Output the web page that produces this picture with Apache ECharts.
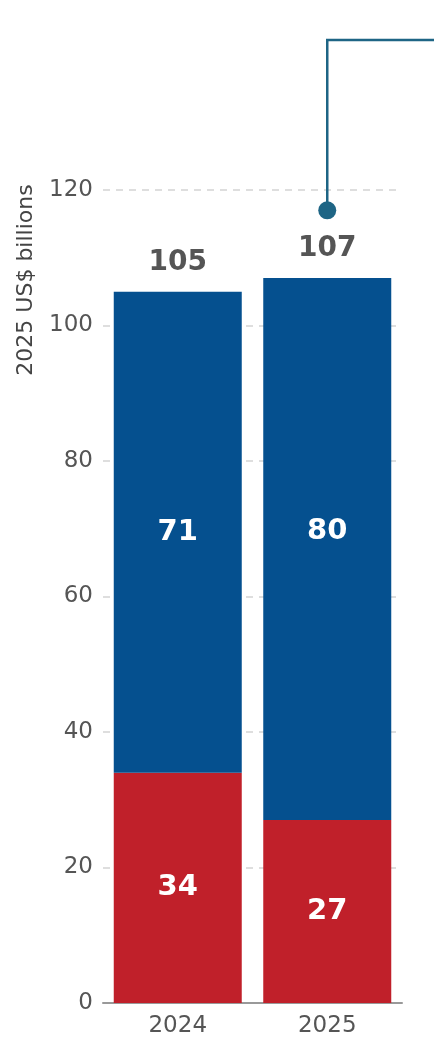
<!DOCTYPE html>
<html><head><meta charset="utf-8">
<script src="https://cdn.jsdelivr.net/npm/echarts@6/dist/echarts.min.js"></script>
<style>html,body{margin:0;padding:0;background:#fff}#c{width:434px;height:1038px}</style>
</head><body><div id="c"></div>
<script>
const categories = ['2024', '2025'];
const redValues = [34, 27];
const blueValues = [71, 80];
const totals = [105, 107];
const markerValue = 117;
const markerCategory = '2025';
const yTicks = [0, 20, 40, 60, 80, 100, 120];
const yAxisTitle = '2025 US$ billions';

const FONT = 'DejaVu Sans';
const chart = echarts.init(document.getElementById('c'), null, {renderer: 'canvas'});
const blueData = blueValues.map((v, i) => i === 1 ? {value: v, label: {offset: [0, -18]}} : v);
const option = {
  animation: false,
  grid: {left: 103, right: 32, top: 190, bottom: 32, containLabel: false},
  xAxis: {
    type: 'category', data: categories,
    axisLine: {lineStyle: {color: '#999', width: 2}},
    axisTick: {show: false},
    axisLabel: {color: '#555', fontSize: 23, fontFamily: FONT, margin: 12}
  },
  yAxis: {
    type: 'value', min: yTicks[0], max: yTicks[yTicks.length - 1], interval: 20,
    axisLine: {show: false}, axisTick: {show: false},
    axisLabel: {color: '#555', fontSize: 23, fontFamily: FONT, margin: 10},
    splitLine: {lineStyle: {color: '#d4d4d4', type: [7, 6], width: 1.5}}
  },
  series: [
    {type: 'bar', stack: 't', data: redValues, barWidth: 128,
     itemStyle: {color: '#C0202A'},
     label: {show: true, position: 'inside', color: '#fff', fontSize: 29, fontWeight: 'bold', fontFamily: FONT}},
    {type: 'bar', stack: 't', data: blueData, barWidth: 128,
     itemStyle: {color: '#05508F'},
     label: {show: true, position: 'inside', color: '#fff', fontSize: 29, fontWeight: 'bold', fontFamily: FONT}},
    {type: 'scatter', data: totals, symbolSize: 0, silent: true,
     itemStyle: {opacity: 1},
     label: {show: true, position: 'top', distance: 15, color: '#555', fontSize: 28, fontWeight: 'bold', fontFamily: FONT, formatter: p => p.value}},
    {type: 'scatter', data: [[markerCategory, markerValue]], symbolSize: 18, z: 5,
     itemStyle: {color: '#1E6585', opacity: 1}}
  ]
};
chart.setOption(option);
const p = chart.convertToPixel({gridIndex: 0}, [markerCategory, markerValue]);
chart.setOption({
  graphic: [
    {type: 'polyline', shape: {points: [[p[0], p[1]], [p[0], 40], [434, 40]]},
     style: {stroke: '#1E6585', lineWidth: 2.5, fill: null}, z: 4},
    {type: 'text', x: 26, y: 280, rotation: Math.PI / 2,
     style: {text: yAxisTitle, fill: '#444', fontSize: 22, fontFamily: FONT, align: 'center', verticalAlign: 'middle'}}
  ]
});
</script></body></html>
